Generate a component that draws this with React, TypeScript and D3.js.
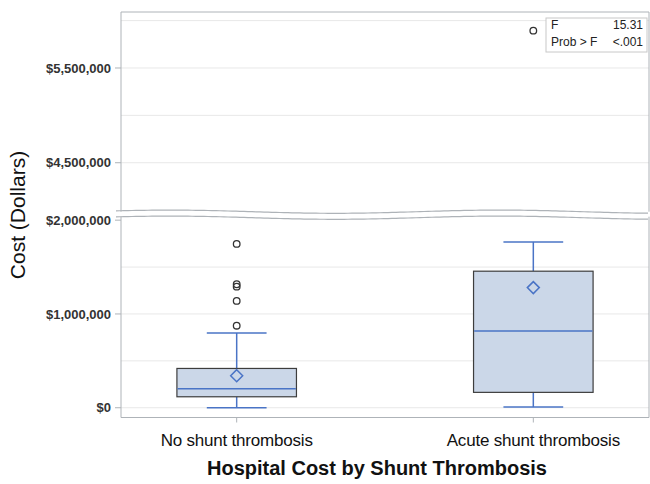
import React from "react";
import * as d3 from "d3";

const categories = ["No shunt thrombosis", "Acute shunt thrombosis"];
const q1 = [117000, 164000];
const median = [203000, 819000];
const q3 = [419000, 1456000];
const mean = [342000, 1281000];
const whiskerLow = [0, 7000];
const whiskerHigh = [797000, 1768000];
const outliers = [
  [875000, 1139000, 1291000, 1317000, 1747000],
  [5894000],
];
const lowerTicks = [0, 1000000, 2000000];
const lowerGrid = [0, 500000, 1000000, 1500000];
const upperTicks = [4500000, 5500000];
const upperGrid = [4500000, 5000000, 5500000, 6000000];
const statLabels = ["F", "Prob > F"];
const statValues = ["15.31", "<.001"];

const W = 650;
const H = 484;
const left = 121;
const right = 649;
const upperTop = 12;
const upperBottom = 211.7;
const lowerTop = 216.7;
const lowerBottom = 417.5;
const breakValue = 3000000;

const fmt = (v: number) => "$" + d3.format(",")(v);

export default function App() {
  const x = d3.scalePoint<string>().domain(categories).range([left, right]).padding(0.39);
  const step = x.step();
  const boxW = step * 0.403;
  const capW = boxW / 2;

  const yLow = d3.scaleLinear().domain([-104000, 2037000]).range([lowerBottom, lowerTop]);
  const yUp = d3.scaleLinear().domain([3983000, 6091000]).range([upperBottom, upperTop]);
  const y = (v: number) => (v > breakValue ? yUp(v) : yLow(v));

  const blue = "#4a74c6";
  const fill = "#cbd7e8";
  const frame = "#aeb3b8";
  const grid = "#e8e8e8";

  const wave = (base: number) => {
    const pts: [number, number][] = [];
    for (let px = 116; px <= W; px += 4) {
      pts.push([px, base - 1.6 * Math.cos((2 * Math.PI * (px - 170)) / 330)]);
    }
    return d3.line()(pts) as string;
  };

  return (
    <svg width={W} height={H} style={{ position: "absolute", left: 0, top: 0, fontFamily: "Liberation Sans, Arial, sans-serif" }}>
      <rect x={0} y={0} width={W} height={H} fill="#fff" />
      {/* grid */}
      {upperGrid.map((g) => (
        <line key={"ug" + g} x1={left} x2={right} y1={yUp(g)} y2={yUp(g)} stroke={grid} strokeWidth={1} />
      ))}
      {lowerGrid.map((g) => (
        <line key={"lg" + g} x1={left} x2={right} y1={yLow(g)} y2={yLow(g)} stroke={grid} strokeWidth={1} />
      ))}
      {/* frame */}
      <line x1={left} x2={right} y1={upperTop} y2={upperTop} stroke={frame} />
      <line x1={left} x2={left} y1={upperTop} y2={upperBottom} stroke={frame} />
      <line x1={right} x2={right} y1={upperTop} y2={upperBottom} stroke={frame} />
      <line x1={left} x2={left} y1={lowerTop} y2={lowerBottom} stroke={frame} />
      <line x1={right} x2={right} y1={lowerTop} y2={lowerBottom} stroke={frame} />
      <line x1={left} x2={right} y1={lowerBottom} y2={lowerBottom} stroke={frame} />
      <path d={wave(upperBottom)} fill="none" stroke={frame} strokeWidth={1.2} />
      <path d={wave(lowerTop + 1)} fill="none" stroke={frame} strokeWidth={1.2} />
      {/* y ticks */}
      {upperTicks.map((t) => (
        <g key={"ut" + t}>
          <line x1={left - 6} x2={left} y1={yUp(t)} y2={yUp(t)} stroke={frame} />
          <text x={left - 10} y={yUp(t)} dy="0.36em" textAnchor="end" fontSize={13} fontWeight="bold" fill="#333">
            {fmt(t)}
          </text>
        </g>
      ))}
      {lowerTicks.map((t) => (
        <g key={"lt" + t}>
          <line x1={left - 6} x2={left} y1={yLow(t)} y2={yLow(t)} stroke={frame} />
          <text x={left - 10} y={yLow(t)} dy="0.36em" textAnchor="end" fontSize={13} fontWeight="bold" fill="#333">
            {fmt(t)}
          </text>
        </g>
      ))}
      {/* x ticks */}
      {categories.map((c) => (
        <g key={"xt" + c}>
          <line x1={x(c)} x2={x(c)} y1={lowerBottom} y2={lowerBottom + 5} stroke={frame} />
          <text x={x(c)} y={lowerBottom + 28} textAnchor="middle" fontSize={17} fill="#111" letterSpacing={-0.2}>
            {c}
          </text>
        </g>
      ))}
      {/* boxes */}
      {categories.map((c, i) => {
        const cx = x(c) as number;
        return (
          <g key={"box" + c}>
            <line x1={cx} x2={cx} y1={y(q3[i])} y2={y(whiskerHigh[i])} stroke={blue} strokeWidth={1.5} />
            <line x1={cx} x2={cx} y1={y(q1[i])} y2={y(whiskerLow[i])} stroke={blue} strokeWidth={1.5} />
            <line x1={cx - capW / 2} x2={cx + capW / 2} y1={y(whiskerHigh[i])} y2={y(whiskerHigh[i])} stroke={blue} strokeWidth={1.5} />
            <line x1={cx - capW / 2} x2={cx + capW / 2} y1={y(whiskerLow[i])} y2={y(whiskerLow[i])} stroke={blue} strokeWidth={1.5} />
            <rect x={cx - boxW / 2} y={y(q3[i])} width={boxW} height={y(q1[i]) - y(q3[i])} fill={fill} stroke="#3d3d3d" strokeWidth={1.2} />
            <line x1={cx - boxW / 2 + 0.6} x2={cx + boxW / 2 - 0.6} y1={y(median[i])} y2={y(median[i])} stroke={blue} strokeWidth={1.5} />
            <path
              d={`M${cx},${y(mean[i]) - 6}L${cx + 6},${y(mean[i])}L${cx},${y(mean[i]) + 6}L${cx - 6},${y(mean[i])}Z`}
              fill="none"
              stroke={blue}
              strokeWidth={1.5}
            />
            {outliers[i].map((o, j) => (
              <circle key={j} cx={cx} cy={y(o)} r={3.3} fill="none" stroke="#333" strokeWidth={1.3} />
            ))}
          </g>
        );
      })}
      {/* stats box */}
      <rect x={546} y={18} width={101} height={34} fill="#fff" stroke="#c8c8c8" />
      {statLabels.map((s, i) => (
        <g key={"st" + i}>
          <text x={551} y={29 + i * 17} fontSize={12} fill="#222">
            {s}
          </text>
          <text x={643} y={29 + i * 17} fontSize={12} fill="#222" textAnchor="end">
            {statValues[i]}
          </text>
        </g>
      ))}
      {/* axis titles */}
      <text transform={`translate(25,215) rotate(-90)`} textAnchor="middle" fontSize={21} fill="#111">
        Cost (Dollars)
      </text>
      <text x={377} y={475} textAnchor="middle" fontSize={20} fontWeight="bold" fill="#111">
        Hospital Cost by Shunt Thrombosis
      </text>
    </svg>
  );
}
